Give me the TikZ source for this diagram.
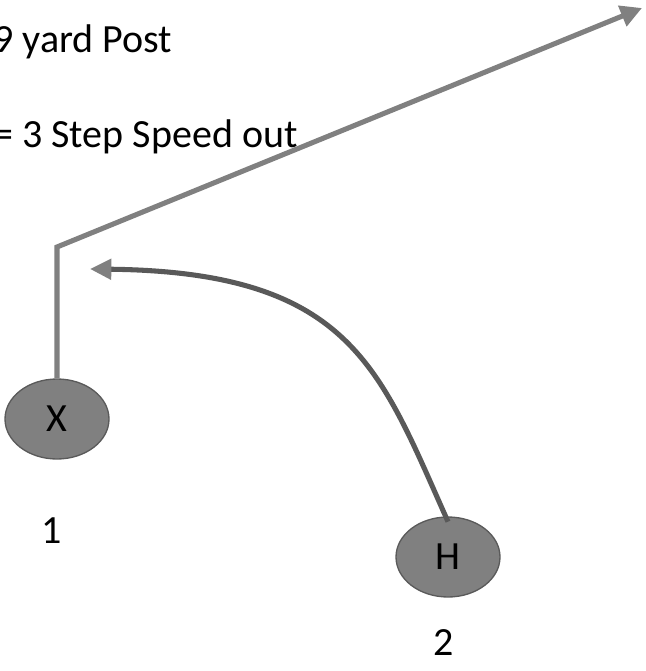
\documentclass[tikz,border=0pt]{standalone}
\usepackage{fontspec}
\setmainfont{Carlito}
\usetikzlibrary{shapes.geometric, arrows.meta, positioning}
\definecolor{PlayerGray}{RGB}{128, 128, 128}
\definecolor{EdgeGray}{RGB}{90, 90, 90}
\definecolor{RouteDark}{RGB}{89, 89, 89}

\begin{document}
\begin{tikzpicture}[x=0.75pt, y=-0.75pt,
    player/.style={ellipse, fill=PlayerGray, draw=EdgeGray, line width=1pt,
                   minimum width=78pt, minimum height=60pt, inner sep=0pt,
                   font=\fontsize{30}{36}\selectfont},
    playtext/.style={inner sep=0pt, font=\fontsize{30}{36}\selectfont},
    route/.style={PlayerGray, line width=3.8pt,
                  -{Triangle[length=16pt, width=16pt]}},
    curl/.style={RouteDark, line width=3.8pt,
                 -{Triangle[length=16pt, width=15pt, color=PlayerGray]}}]
    % Fixed page size
    \path[use as bounding box] (0,0) rectangle (646,671);

    % Play call text
    \node[playtext, anchor=base west] (postTxt) at (-7,52) {9 yard Post};
    \node[playtext, anchor=base west] (outTxt) at (-7,147) {= 3 Step Speed out};

    % Players
    \node[player] (recvX) at (57,419) {X};
    \node[player] (recvH) at (448,557) {H};
    \node[playtext, anchor=base] (numA) at (52,543) {1};
    \node[playtext, anchor=base] (numB) at (444,655) {2};

    % Route ends
    \coordinate (brk) at (57,247);
    \coordinate (postEnd) at (642,8);
    \coordinate (outEnd) at (90,269);

    % Routes
    \draw[route] (recvX.north) -- (brk) -- (postEnd);
    \draw[curl] ([yshift=-4pt]recvH.north) .. controls (380,370) and (352,272) .. (outEnd);
\end{tikzpicture}
\end{document}
